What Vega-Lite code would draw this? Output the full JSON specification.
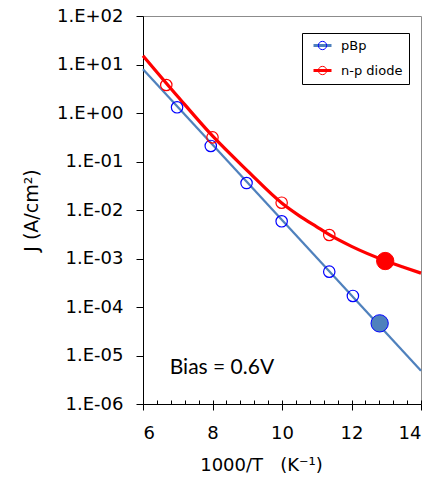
{
  "$schema": "https://vega.github.io/schema/vega-lite/v6.json",
  "width": 278,
  "height": 388,
  "autosize": {"type": "none"},
  "padding": {"left": 143, "top": 16, "right": 22, "bottom": 73},
  "background": "white",
  "config": {
    "view": {"stroke": "#8c8c8c", "strokeWidth": 1},
    "axis": {
      "domainColor": "black", "tickColor": "black", "labelColor": "black", "titleColor": "black",
      "labelFont": "DejaVu Sans", "titleFont": "DejaVu Sans", "labelFontSize": 18, "titleFontSize": 18,
      "titleFontWeight": "normal", "grid": false, "domainWidth": 1, "tickWidth": 1
    }
  },
  "datasets": {
    "fit": [
      {"T": 6, "J": 7.96, "series": "pBp"},
      {"T": 14, "J": 0.00000486, "series": "pBp"},
      {"T": 6, "J": 15.2, "series": "n-p diode"},
      {"T": 7, "J": 2.19, "series": "n-p diode"},
      {"T": 8, "J": 0.336, "series": "n-p diode"},
      {"T": 9, "J": 0.065, "series": "n-p diode"},
      {"T": 10, "J": 0.0138, "series": "n-p diode"},
      {"T": 10.5, "J": 0.0076, "series": "n-p diode"},
      {"T": 11, "J": 0.0045, "series": "n-p diode"},
      {"T": 11.36, "J": 0.0031, "series": "n-p diode"},
      {"T": 12, "J": 0.00178, "series": "n-p diode"},
      {"T": 13, "J": 0.000885, "series": "n-p diode"},
      {"T": 13.5, "J": 0.00066, "series": "n-p diode"},
      {"T": 14, "J": 0.0005, "series": "n-p diode"}
    ],
    "obs": [
      {"T": 6.98, "J": 1.31, "series": "pBp", "kind": "open"},
      {"T": 7.95, "J": 0.209, "series": "pBp", "kind": "open"},
      {"T": 8.98, "J": 0.036, "series": "pBp", "kind": "open"},
      {"T": 9.99, "J": 0.00585, "series": "pBp", "kind": "open"},
      {"T": 11.36, "J": 0.000535, "series": "pBp", "kind": "open"},
      {"T": 12.04, "J": 0.000169, "series": "pBp", "kind": "open"},
      {"T": 12.81, "J": 0.000046, "series": "pBp", "kind": "filled"},
      {"T": 6.67, "J": 3.78, "series": "n-p diode", "kind": "open"},
      {"T": 8.0, "J": 0.315, "series": "n-p diode", "kind": "open"},
      {"T": 9.99, "J": 0.01415, "series": "n-p diode", "kind": "open"},
      {"T": 11.36, "J": 0.00305, "series": "n-p diode", "kind": "open"},
      {"T": 12.97, "J": 0.000887, "series": "n-p diode", "kind": "filled"}
    ],
    "notes": [
      {"T": 6.77, "J": 0.0000042, "label": "Bias = 0.6V"}
    ]
  },
  "encoding": {
    "x": {
      "field": "T", "type": "quantitative",
      "scale": {"domain": [6, 14], "nice": false, "zero": false},
      "axis": {
        "orient": "bottom",
        "title": "1000/T\u00a0\u00a0\u00a0(K⁻¹)",
        "values": [6, 8, 10, 12, 14],
        "format": "d",
        "tickSize": 6,
        "labelPadding": 14,
        "titlePadding": 14,
        "titleX": 118,
        "titleAnchor": "start",
        "titleAlign": "center"
      }
    },
    "y": {
      "field": "J", "type": "quantitative",
      "scale": {"type": "log", "domain": [0.000001, 100], "nice": false},
      "axis": {
        "title": "J (A/cm²)",
        "values": [0.000001, 0.00001, 0.0001, 0.001, 0.01, 0.1, 1, 10, 100],
        "labelExpr": "'1.E' + (datum.value >= 1 ? '+' : '-') + format(abs(round(log(datum.value) / LN10)), '02d')",
        "tickSize": 7,
        "labelPadding": 13,
        "titlePadding": 15,
        "titleFontSize": 19
      }
    }
  },
  "resolve": {"axis": {"x": "independent"}},
  "layer": [
    {
      "layer": [
        {
          "data": {"name": "fit"},
          "transform": [{"filter": "datum.series == 'pBp'"}],
          "mark": {"type": "line", "strokeWidth": 2.25},
          "encoding": {
            "color": {
              "field": "series", "type": "nominal", "sort": ["pBp", "n-p diode"],
              "scale": {"range": ["#4F81BD", "#FF0000"]},
              "legend": {
                "orient": "none", "legendX": 159, "legendY": 17, "title": null,
                "symbolType": "M-2,0H2", "symbolSize": 81, "symbolStrokeWidth": 3,
                "symbolOffset": 8, "labelOffset": 12,
                "labelFont": "DejaVu Sans", "labelFontSize": 13, "labelColor": "black",
                "labelExpr": "datum.label + '\u00a0\u00a0'",
                "padding": 6, "rowPadding": 11,
                "strokeColor": "black", "fillColor": "white", "zindex": 1
              }
            }
          }
        },
        {
          "data": {"name": "fit"},
          "transform": [{"filter": "datum.series == 'n-p diode'"}],
          "mark": {"type": "line", "strokeWidth": 3.25, "interpolate": "monotone"},
          "encoding": {
            "color": {
              "field": "series", "type": "nominal", "sort": ["pBp", "n-p diode"],
              "scale": {"range": ["#4F81BD", "#FF0000"]}
            }
          }
        },
        {
          "data": {"name": "obs"},
          "transform": [{"filter": "datum.kind == 'open'"}],
          "mark": {"type": "point", "shape": "circle", "filled": false, "size": 130, "strokeWidth": 1.2, "opacity": 1},
          "encoding": {
            "stroke": {
              "field": "series", "type": "nominal",
              "scale": {"domain": ["pBp", "n-p diode"], "range": ["#0000FF", "#FF0000"]},
              "legend": {
                "orient": "none", "legendX": 159, "legendY": 17, "title": null,
                "symbolType": "circle", "symbolSize": 69, "symbolStrokeWidth": 1,
                "symbolOffset": 8, "labelOffset": 12,
                "labelFont": "DejaVu Sans", "labelFontSize": 13, "labelExpr": "''",
                "padding": 6, "rowPadding": 11,
                "zindex": 2
              }
            }
          }
        },
        {
          "data": {"name": "obs"},
          "transform": [{"filter": "datum.kind == 'filled' && datum.series == 'pBp'"}],
          "mark": {"type": "point", "shape": "circle", "filled": true, "size": 300, "fill": "#4F81BD", "stroke": "#0000FF", "strokeWidth": 1, "opacity": 1}
        },
        {
          "data": {"name": "obs"},
          "transform": [{"filter": "datum.kind == 'filled' && datum.series == 'n-p diode'"}],
          "mark": {"type": "point", "shape": "circle", "filled": true, "size": 300, "fill": "#FF0000", "stroke": "#FF0000", "strokeWidth": 1, "opacity": 1}
        }
      ]
    },
    {
      "data": {"name": "notes"},
      "mark": {"type": "text", "font": "Lato", "fontSize": 21, "align": "left", "baseline": "alphabetic", "color": "black"},
      "encoding": {
        "x": {
          "field": "T", "type": "quantitative",
          "scale": {"domain": [6, 14], "nice": false, "zero": false},
          "axis": {
            "orient": "bottom", "offset": -4, "domain": false, "labels": false, "title": null,
            "tickSize": 4, "grid": false,
            "values": [6, 6.4, 6.8, 7.2, 7.6, 8, 8.4, 8.8, 9.2, 9.6, 10, 10.4, 10.8, 11.2, 11.6, 12, 12.4, 12.8, 13.2, 13.6, 14]
          }
        },
        "text": {"field": "label", "type": "nominal"}
      }
    }
  ]
}
